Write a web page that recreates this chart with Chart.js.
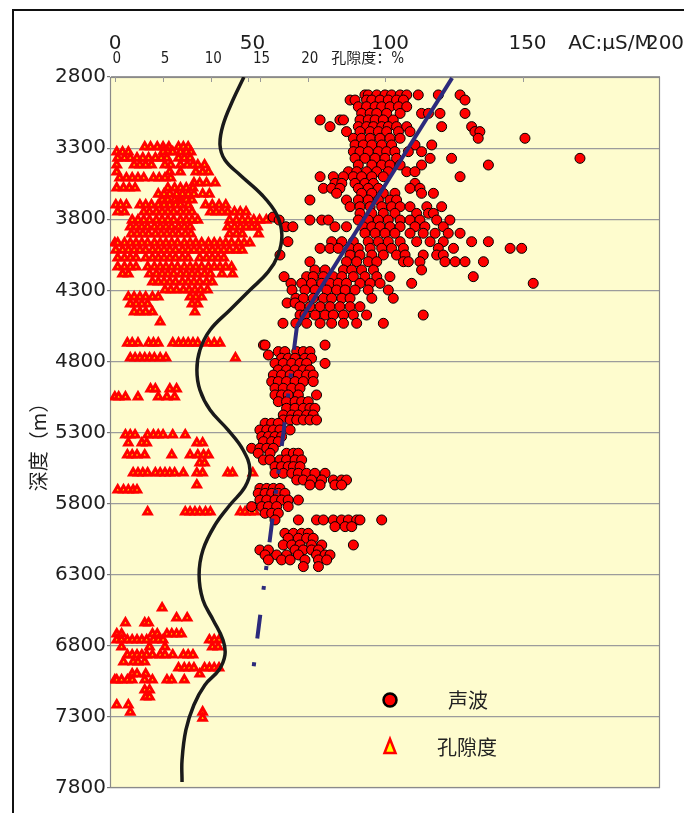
<!DOCTYPE html>
<html>
<head>
<meta charset="utf-8">
<script src="https://cdn.jsdelivr.net/npm/chart.js@4/dist/chart.umd.min.js"></script>
<style>
  html, body { margin: 0; padding: 0; background: #fff; }
  #wrap { position: relative; width: 684px; height: 813px; overflow: hidden; }
  #frame { position: absolute; left: 12px; top: 9px; width: 720px; height: 900px;
           border-left: 2px solid #111; border-top: 2px solid #111; pointer-events: none; }
  canvas { display: block; }
</style>
</head>
<body>
<div id="wrap">
  <canvas id="chart" width="684" height="813"></canvas>
  <div id="frame"></div>
</div>
<script>
// ---- Axis ticks ----
const acTickValues = [0, 50, 100, 150, 180, 200];
const acTickLabels = ['0', '50', '100', '150', 'AC:μS/M', '200'];
const poroTickValues = [0, 5, 10, 15, 20, 26];
const poroTickLabels = ['0', '5', '10', '15', '20', '孔隙度：%'];

// ---- Acoustic (AC, μs/m) samples, grouped by depth (m) ----
const acDepths = [
  2926, 2962, 3009, 3056, 3102, 3149, 3184, 3231, 3278, 3325, 3372, 3419, 3466, 3501,
  3548, 3583, 3618, 3665, 3712, 3759, 3785, 3806, 3853, 3899, 3958, 4005, 4052, 4099,
  4157, 4204, 4251, 4298, 4356, 4389, 4415, 4474, 4532,
  4685, 4731, 4755, 4778, 4814, 4860, 4896, 4942, 4989, 5036, 5083, 5130, 5177, 5212,
  5235, 5282, 5329, 5364, 5411, 5446, 5493, 5540, 5587, 5634, 5669, 5693, 5728, 5775,
  5821, 5868, 5915, 5962, 6009, 6044, 6091, 6126, 6161, 6196, 6243
];
const acValues = [
  [92.7, 93.9, 97, 100, 102.4, 105.5, 107.9, 112.1, 119.4, 127.3],
  [87.3, 89.1, 93.3, 95.2, 98.2, 101.2, 104.2, 106.7, 129.1],
  [90.3, 93.3, 96.4, 98.8, 101.8, 104.9, 107.9],
  [91.5, 94.6, 97, 100.6, 105.5, 113.3, 115.8, 120, 129.1],
  [76.4, 83.6, 84.9, 90.9, 93.9, 96.4, 99.4, 103],
  [80, 90.3, 93.3, 95.8, 98.8, 101.2, 104.2, 107.9, 120.6, 131.5],
  [86, 90.9, 94.6, 97.6, 100.6, 104.9, 109.1, 132.7, 134.5],
  [88.5, 91.5, 94.6, 98.2, 101.8, 105.5, 133.9, 150.9],
  [89.1, 92.1, 95.2, 98.8, 102.4, 110.9, 117],
  [88.5, 90.9, 93.9, 97.6, 100.6, 103.6, 108.5, 113.3],
  [89.1, 92.7, 96.4, 100, 104.2, 116.4, 124.2, 170.9],
  [90.3, 95.2, 98.8, 101.8, 105.5, 113.3, 137.6],
  [86.7, 89.7, 93.3, 97, 101.2, 107.9, 110.9],
  [76.4, 81.2, 84.9, 88.5, 91.5, 95.2, 99.4, 127.3],
  [81.8, 84.3, 89.1, 92.7, 95.8, 110.9],
  [77.6, 80.6, 83.6, 90.3, 93.9, 97.6, 109.1, 112.7],
  [82.4, 91.5, 95.2, 99.4, 103.6, 113.3, 117.6],
  [72.7, 86, 90.3, 93.9, 97.6, 101.8, 104.2],
  [87.3, 90.9, 94.6, 98.8, 102.4, 105.5, 109.1, 115.2, 120.6],
  [90.9, 95.2, 99.4, 103.6, 111.5, 115.8, 117.6],
  [59.3],
  [61.5, 72.7, 77, 79.4, 90.3, 93.9, 97.6, 101.2, 105.5, 109.1, 112.7, 118.8, 123.6],
  [64, 66.5, 81.8, 86, 92.1, 95.2, 98.2, 101.8, 105.5, 110.9, 114.5, 121.2],
  [92.7, 96.4, 100, 103.6, 109.1, 113.9, 118.2, 123, 127.3],
  [64.7, 80.6, 84.3, 88.5, 93.9, 97.6, 101.2, 105.5, 111.5, 116.4, 121.2, 131.5, 137.6],
  [76.4, 80, 83, 87.3, 90.3, 94.6, 98.8, 102.4, 106.7, 119.4, 124.9, 145.5, 149.7],
  [61.8, 87.3, 90.9, 95.2, 99.4, 104.2, 107.3, 113.9, 118.8, 121.2],
  [72.7, 86, 89.7, 93.9, 97, 106.7, 108.5, 112.7, 121.8, 125.5, 129.1, 135.8],
  [74.5, 78.2, 84.9, 87.9, 91.5, 95.8, 113.3],
  [63.3, 71.5, 73.9, 77.6, 81.2, 84.3, 88.5, 92.7, 97, 101.8, 132.1],
  [65.8, 69.7, 73.3, 77, 80, 83, 86, 90.9, 94.6, 98.2, 109.7, 153.9],
  [66.2, 70.9, 74.6, 78.8, 82.4, 85.5, 89.1, 93.9, 101.2],
  [67.6, 70.3, 73.9, 77.6, 80.6, 84.3, 87.3, 95.2, 103],
  [64.4, 67.3],
  [69.1, 72.7, 76.4, 80, 83.6, 87.3, 90.9],
  [69.1, 70.9, 74.6, 78.2, 81.2, 84.9, 88.5, 93.3, 113.9],
  [62.9, 67.6, 71.5, 76.4, 80.6, 84.9, 89.7, 99.4],
  [55.8, 56.4, 78.2],
  [61.2, 63.6, 67.9, 70.3, 72.7],
  [57.6],
  [62.4, 64.8, 67.3, 70.9, 73.3],
  [60, 63, 66.1, 69.1, 71.5, 78.2],
  [61.2, 64.2, 67.3, 70.3, 72.7],
  [59.4, 62.4, 65.5, 68.5, 71.5, 73.9],
  [58.8, 61.2, 64.2, 67.3, 70.3, 73.9],
  [60, 63, 66.1, 69.1],
  [60, 62.4, 64.8, 68.5, 75.1],
  [61.2, 64.2, 67.3, 69.7, 72.1],
  [64.2, 67.3, 70.3, 72.7, 74.5],
  [63, 66.1, 68.5, 71.5, 73.9],
  [63, 65.5, 67.9, 70.3, 72.7, 75.1],
  [56.4, 58.8, 61.2],
  [54.5, 57, 59.4, 61.8, 65.5],
  [55.2, 57.6, 60, 62.4],
  [55.8, 58.8, 61.2],
  [51.5, 54.5, 57, 59.4],
  [53.9, 58.2, 64.2, 66.7, 68.5],
  [55.8, 58.2, 61.8, 64.2, 67.3, 69.7],
  [60, 62.4, 64.8, 66.7, 69.1],
  [60, 63, 66.1, 68.5, 71.5, 74.5, 78.2],
  [67.9, 70.3, 73.3, 77, 81.2, 84.2, 86],
  [72.7, 76.4, 81.8, 84.2],
  [54.5, 57, 59.4, 61.8],
  [53.9, 56.4, 58.8, 61.2, 63.6],
  [54.5, 57, 60, 62.4, 64.8, 68.5],
  [51.5, 55.2, 57.6, 60.6, 64.8],
  [56.4, 58.8, 61.2],
  [60, 68.5, 75.1, 77.6, 81.2, 84.2, 86.7, 89.7, 90.9, 98.8],
  [81.8, 85.5, 87.9],
  [63.6, 66.7, 69.7, 72.1],
  [64.8, 68.5, 71.5, 73.9],
  [63, 66.1, 69.1, 73.3, 77, 88.5],
  [54.5, 57.6, 67.3, 70.3, 73.3, 75.8],
  [56.4, 60.6, 64.2, 68.5, 75.1, 78.2, 80],
  [57.6, 62.4, 65.5, 70.9, 75.8, 78.8],
  [70.3, 75.8]
];

// ---- Porosity (%) samples, grouped by depth (m) ----
const poroDepths = [
  3292, 3327, 3370, 3419, 3468, 3510, 3545, 3580, 3623, 3665, 3700, 3749, 3806, 3855,
  3904, 3967, 4017, 4073, 4136, 4185, 4241, 4298, 4347, 4396, 4452, 4523,
  4671, 4776, 4994, 5050, 5317, 5373, 5458, 5514, 5584, 5669, 5704, 5859,
  6534, 6604, 6639, 6717, 6759, 6808, 6864, 6913, 6955, 6998, 7040, 7111, 7160, 7216, 7266, 7308
];
const poroValues = [
  [3.1, 3.7, 4.4, 5.0, 5.6, 6.6, 7.1, 7.6],
  [0.2, 0.8, 1.4, 5.0, 5.5, 6.0, 6.8, 7.4, 7.9],
  [0.3, 1.0, 1.6, 2.3, 2.9, 3.5, 4.2, 4.8, 5.4, 6.6, 7.2, 7.8],
  [0.2, 2.0, 2.6, 3.2, 3.8, 5.2, 5.8, 6.8, 7.5, 8.1, 8.6, 9.3],
  [0.2, 5.7, 6.8, 8.4, 9.1, 9.7],
  [0.5, 1.2, 1.8, 2.4, 3.0, 4.0, 4.6, 5.2, 5.8],
  [8.2, 8.8, 9.5, 10.4],
  [0.2, 0.9, 1.5, 2.1, 5.5, 6.2, 6.8, 7.4, 8.1],
  [4.5, 5.1, 5.7, 6.4, 7.0, 7.6, 8.2, 9.1, 9.8],
  [4.9, 5.5, 6.2, 6.8, 7.4, 8.0],
  [0.1, 0.6, 1.2, 2.6, 3.2, 3.8, 4.5, 5.1, 5.7, 6.3, 6.8, 7.6, 9.4, 10.1, 10.8, 11.5],
  [0.3, 1.0, 3.0, 3.6, 4.3, 4.9, 5.5, 6.1, 6.8, 7.4, 8.0, 9.9, 10.5, 11.1, 11.7, 12.4, 13.0, 13.6],
  [1.8, 2.4, 3.0, 3.6, 4.3, 4.9, 5.5, 6.1, 6.8, 7.4, 8.0, 8.6, 11.9, 12.6, 13.2, 13.8, 14.4, 15.0, 15.7],
  [1.6, 2.2, 2.8, 3.4, 4.1, 4.7, 5.3, 5.9, 6.6, 7.2, 7.8, 11.7, 12.4, 13.0, 13.6, 14.2, 14.8],
  [1.7, 2.3, 2.9, 3.5, 4.2, 4.8, 5.4, 6.0, 6.6, 7.3, 7.9, 11.9, 12.6, 13.2, 14.9],
  [0, 0.3, 1.0, 1.6, 2.2, 2.8, 3.4, 4.1, 4.7, 5.3, 5.9, 6.5, 7.2, 7.8, 8.4, 9.0, 9.7, 10.3, 10.9, 11.5, 12.1, 12.8, 13.4, 14.0],
  [0.1, 0.8, 1.4, 2.0, 2.6, 3.2, 3.9, 4.5, 5.1, 5.7, 6.3, 7.0, 7.6, 8.2, 8.8, 9.5, 10.1, 10.7, 11.3, 11.9, 12.6, 13.2],
  [0.3, 1.0, 1.6, 2.2, 3.2, 3.9, 4.5, 5.1, 5.7, 6.3, 7.0, 7.6, 8.8, 9.5, 10.1, 10.7, 11.3],
  [0.3, 1.0, 1.6, 2.2, 3.4, 4.1, 4.7, 5.3, 5.9, 6.5, 7.2, 7.8, 8.4, 9.0, 9.7, 10.3, 10.9, 11.5, 12.1],
  [0.8, 1.4, 3.6, 4.3, 4.9, 5.5, 6.1, 6.8, 7.4, 8.0, 8.6, 9.3, 9.9, 11.1, 12.2],
  [3.9, 4.5, 5.1, 5.7, 6.3, 7.0, 7.6, 8.2, 8.8, 9.5, 10.1],
  [5.2, 5.8, 6.4, 7.1, 7.7, 8.3, 8.9, 9.6],
  [1.4, 2.0, 2.6, 3.2, 3.9, 4.5, 7.8, 8.4, 9.0],
  [1.6, 2.2, 2.8, 3.4, 8.0, 8.6],
  [2.0, 2.6, 3.2, 3.9, 8.3],
  [4.7],
  [1.3, 1.8, 2.4, 3.5, 4.0, 4.5, 6.0, 6.6, 7.1, 7.6, 8.1, 8.6, 9.7, 10.3, 10.9],
  [1.6, 2.1, 2.6, 3.1, 3.6, 4.1, 4.7, 5.3, 12.5],
  [3.7, 4.2, 5.7, 6.4],
  [0, 0.4, 1.1, 2.4, 4.5, 5.4, 6.2],
  [1.1, 1.6, 2.1, 3.4, 4.0, 4.5, 5.0, 6.0, 7.3],
  [1.4, 2.8, 3.3, 8.5, 9.1],
  [1.3, 1.8, 2.3, 3.1, 5.9, 7.8, 8.6, 9.2, 9.7],
  [8.8, 9.3],
  [1.9, 2.4, 2.9, 3.4, 4.2, 4.7, 5.2, 5.7, 6.2, 7.1, 8.5, 9.1, 11.7, 12.2, 14.3],
  [8.5],
  [0.3, 0.9, 1.4, 1.9, 2.3],
  [3.4, 7.3, 7.8, 8.3, 8.8, 9.4, 9.9, 13.0, 13.5, 14.0, 14.5],
  [4.9],
  [6.4, 7.5],
  [1.1, 3.1, 3.5],
  [0.2, 0.7, 3.9, 4.4, 5.4, 5.9, 6.4, 6.9],
  [0.2, 0.7, 1.3, 1.8, 2.3, 2.8, 3.3, 4.0, 4.5, 5.0, 9.8, 10.3, 10.8],
  [0.7, 3.6, 5.2, 10.1, 10.7],
  [1.3, 1.8, 2.3, 2.8, 3.3, 3.9, 4.7, 5.2, 6.0, 7.1, 7.6, 8.1],
  [0.9, 1.9, 2.4, 3.1],
  [6.6, 7.2, 7.7, 8.2, 9.3, 9.8, 10.3, 10.8],
  [1.8, 2.3, 3.2, 8.8],
  [0, 0.2, 0.7, 1.3, 1.8, 3.1, 3.9, 5.4, 5.9, 7.2],
  [3.1, 3.6],
  [3.2, 3.6],
  [0.2, 1.4],
  [1.6, 9.1],
  [9.1]
];

// ---- Smoothed AC curve ----
const curveDepths = [2800, 2962, 3138, 3278, 3384, 3489, 3630, 3770, 3911, 4052, 4171, 4298,
  4438, 4579, 4720, 4860, 5001, 5142, 5282, 5423, 5564, 5683, 5810, 5950, 6126, 6302,
  6478, 6618, 6759, 6864, 6970, 7075, 7216, 7392, 7603, 7758];
const curveAC = [48.7, 44.7, 41.1, 40, 41.8, 47.3, 55.3, 60.7, 62.5, 61.1, 57.5, 50.9,
  43.6, 36.4, 32.7, 31.6, 32.7, 36.4, 42.9, 48.4, 50.9, 49.1, 43.6, 38.2, 33.8, 32.4,
  33.8, 37.5, 41.1, 41.8, 39.6, 34.5, 30.5, 27.6, 26.2, 26.2];

// ---- Compaction trend (AC vs depth) ----
const trendUpperDepths = [2807, 4551];
const trendUpperAC = [124.4, 68];
const trendLowerDepths = [4551, 6984];
const trendLowerAC = [68, 52];

function rowsToPoints(depths, values) {
  const pts = [];
  depths.forEach((d, i) => values[i].forEach(v => pts.push({ x: v, y: d })));
  return pts;
}
function pairsToPoints(depths, xs) {
  return depths.map((d, i) => ({ x: xs[i], y: d }));
}

const plotBackground = {
  id: 'plotBackground',
  beforeDraw(chart) {
    const { ctx, chartArea: a } = chart;
    ctx.save();
    ctx.fillStyle = '#FEFCCE';
    ctx.fillRect(a.left, a.top, a.right - a.left, a.bottom - a.top);
    ctx.restore();
  }
};

const plotFrame = {
  id: 'plotFrame',
  beforeDatasetsDraw(chart) {
    const { ctx, chartArea: a, scales } = chart;
    ctx.save();
    ctx.strokeStyle = '#8a8a8a';
    ctx.lineWidth = 1.2;
    ctx.strokeRect(a.left + 0.5, a.top + 0.5, a.right - a.left - 1, a.bottom - a.top - 1);
    ctx.strokeStyle = '#999';
    ctx.lineWidth = 1;
    ctx.beginPath();
    poroTickValues.slice(0, 5).forEach(v => {
      const x = Math.round(scales.poro.getPixelForValue(v)) + 0.5;
      ctx.moveTo(x, a.top); ctx.lineTo(x, a.top + 5);
    });
    [50, 100, 150].forEach(v => {
      const x = Math.round(scales.ac.getPixelForValue(v)) + 0.5;
      ctx.moveTo(x, a.top); ctx.lineTo(x, a.top + 5);
    });
    ctx.stroke();
    ctx.restore();
  }
};

const sideLabels = {
  id: 'sideLabels',
  afterDraw(chart) {
    const { ctx, chartArea: a } = chart;
    ctx.save();
    // depth axis title
    ctx.translate(38, 442);
    ctx.rotate(-Math.PI / 2);
    ctx.fillStyle = '#1e1e1e';
    ctx.font = '20px "Noto Sans CJK SC", sans-serif';
    ctx.textAlign = 'center';
    ctx.textBaseline = 'middle';
    ctx.fillText('深度（m）', 0, 0);
    ctx.restore();

    // legend
    const lx = a.left + 280;
    const y1 = 700, y2 = 747;
    ctx.save();
    ctx.beginPath();
    ctx.arc(lx, y1, 6.5, 0, Math.PI * 2);
    ctx.fillStyle = '#FF0000';
    ctx.fill();
    ctx.lineWidth = 2.5;
    ctx.strokeStyle = '#000';
    ctx.stroke();

    ctx.beginPath();
    ctx.moveTo(lx, y2 - 8);
    ctx.lineTo(lx + 5.5, y2 + 6);
    ctx.lineTo(lx - 5.5, y2 + 6);
    ctx.closePath();
    ctx.fillStyle = '#FFFF00';
    ctx.fill();
    ctx.lineWidth = 2.5;
    ctx.lineJoin = 'miter';
    ctx.strokeStyle = '#FF0000';
    ctx.stroke();

    ctx.fillStyle = '#222';
    ctx.font = '20px "Noto Sans CJK SC", sans-serif';
    ctx.textAlign = 'center';
    ctx.textBaseline = 'middle';
    ctx.fillText('声波', lx + 78, y1);
    ctx.fillText('孔隙度', lx + 77, y2);
    ctx.restore();
  }
};

const tickFont = { family: '"DejaVu Sans", sans-serif', size: 20 };
const poroFont = { family: '"DejaVu Sans Condensed", "Liberation Sans Narrow", "Noto Sans CJK SC", sans-serif', size: 15 };

new Chart(document.getElementById('chart'), {
  type: 'scatter',
  data: {
    datasets: [
      {
        label: 'trend',
        data: pairsToPoints(trendUpperDepths, trendUpperAC),
        xAxisID: 'ac', yAxisID: 'y',
        showLine: true, pointRadius: 0, borderColor: '#2C2A7C', borderWidth: 4
      },
      {
        label: 'trend-extension',
        data: pairsToPoints(trendLowerDepths, trendLowerAC),
        xAxisID: 'ac', yAxisID: 'y',
        showLine: true, pointRadius: 0, borderColor: '#2C2A7C', borderWidth: 4,
        borderDash: [24, 24, 4, 16, 4, 25], borderCapStyle: 'butt'
      },
      {
        label: 'AC curve',
        data: pairsToPoints(curveDepths, curveAC),
        xAxisID: 'ac', yAxisID: 'y',
        showLine: true, pointRadius: 0, borderColor: '#1a1a1a', borderWidth: 3.5, tension: 0.4
      },
      {
        label: '声波',
        data: rowsToPoints(acDepths, acValues),
        xAxisID: 'ac', yAxisID: 'y',
        pointStyle: 'circle', pointRadius: 5, borderWidth: 1,
        backgroundColor: '#FF0000', borderColor: '#000'
      },
      {
        label: '孔隙度',
        data: rowsToPoints(poroDepths, poroValues),
        xAxisID: 'poro', yAxisID: 'y',
        pointStyle: 'triangle', pointRadius: 4.2, borderWidth: 3,
        backgroundColor: '#FFFF00', borderColor: '#FF0000'
      }
    ]
  },
  options: {
    responsive: false,
    devicePixelRatio: 1,
    animation: false,
    events: [],
    layout: { padding: { top: 27, left: 0, right: 24, bottom: 25 } },
    plugins: { legend: { display: false }, tooltip: { enabled: false } },
    scales: {
      y: {
        type: 'linear', position: 'left', reverse: true, min: 2800, max: 7800, bounds: 'data',
        ticks: { stepSize: 500, font: tickFont, color: '#1e1e1e', padding: 1, callback: v => String(v) },
        grid: { color: '#9c9c9c', lineWidth: 1.2, tickLength: 3, tickColor: '#777' },
        border: { display: true, color: '#8a8a8a', width: 1 },
        afterFit: s => { s.width = 110; }
      },
      ac: {
        type: 'linear', axis: 'x', position: 'top', min: 0, max: 200, bounds: 'data', weight: 2,
        afterBuildTicks: s => { s.ticks = acTickValues.map(v => ({ value: v })); },
        ticks: {
          autoSkip: false, maxRotation: 0, minRotation: 0, labelOffset: 5, padding: -5,
          font: tickFont, color: '#1e1e1e',
          callback: (v, i) => acTickLabels[i]
        },
        grid: { display: false, drawTicks: false },
        border: { display: false },
        afterFit: s => { s.height = 24; }
      },
      poro: {
        type: 'linear', axis: 'x', position: 'top', min: -0.5, max: 56.5, bounds: 'data', weight: 1,
        afterBuildTicks: s => { s.ticks = poroTickValues.map(v => ({ value: v })); },
        ticks: {
          autoSkip: false, maxRotation: 0, minRotation: 0, labelOffset: 2, padding: 9,
          font: poroFont,
          color: '#1e1e1e',
          callback: (v, i) => poroTickLabels[i]
        },
        grid: { display: false, drawTicks: false },
        border: { display: false },
        afterFit: s => { s.height = 26; }
      }
    }
  },
  plugins: [plotBackground, plotFrame, sideLabels]
});
</script>
</body>
</html>
